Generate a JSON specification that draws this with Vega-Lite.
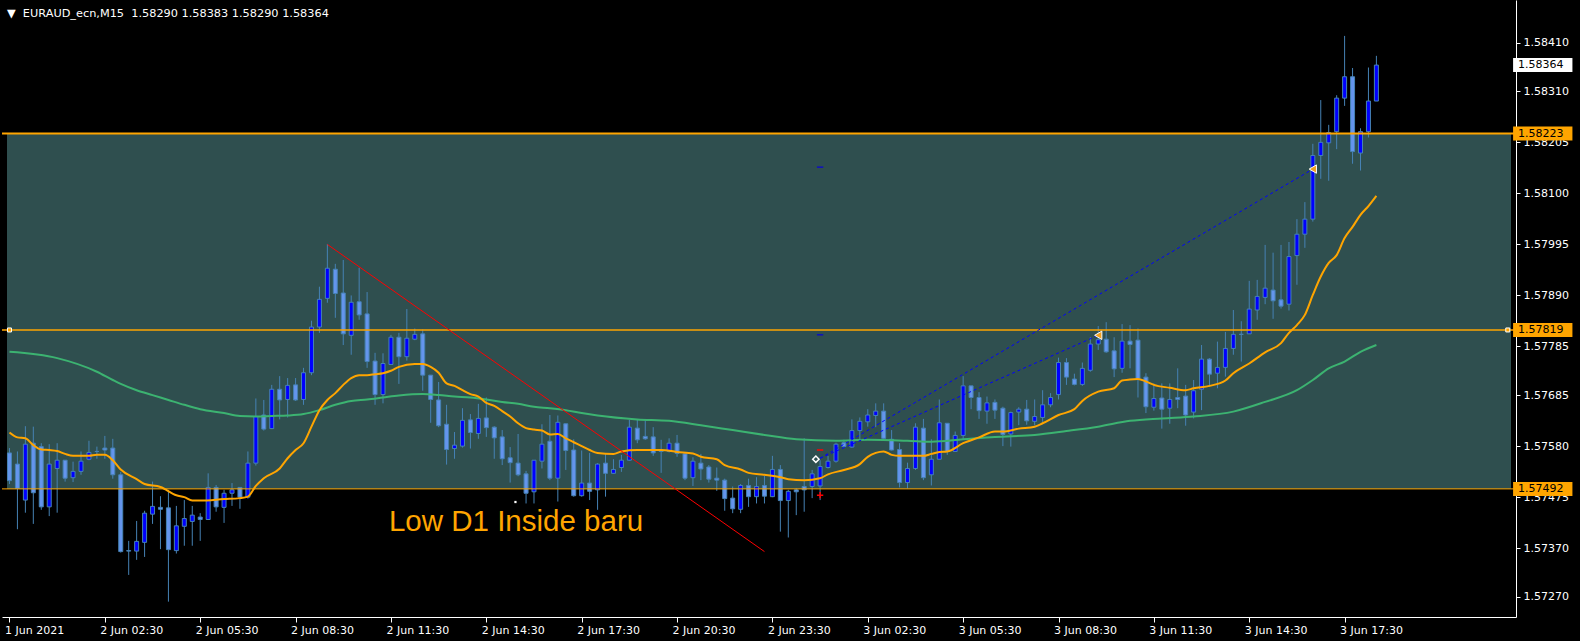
{
"$schema": "https://vega.github.io/schema/vega-lite/v6.json",
"width": 1514, "height": 617,
"autosize": {"type": "none"},
"padding": {"left": 2, "top": 0, "right": 64, "bottom": 24},
"background": "#000000",
"config": {
 "view": {"stroke": null},
 "font": "DejaVu Sans",
 "axis": {"labelFont": "DejaVu Sans", "labelFontSize": 11, "labelColor": "#FFFFFF", "tickColor": "#FFFFFF", "domainColor": "#FFFFFF", "grid": false, "labelOverlap": false}
},
"title": {"text": "\u25bc\u00a0 EURAUD_ecn,M15\u00a0 1.58290 1.58383 1.58290 1.58364", "anchor": "start", "frame": "group", "orient": "top", "offset": -10, "baseline": "middle", "dx": 5, "dy": 15, "color": "#FFFFFF", "font": "DejaVu Sans", "fontSize": 11.3, "fontWeight": "normal"},
"resolve": {"scale": {"color": "independent", "shape": "independent", "strokeWidth": "independent"}},
"datasets": {
 "zone": [{"lo": 1.57492, "hi": 1.58223}],
 "levels": [{"p": 1.58223, "kind": "High D1"}, {"p": 1.57819, "kind": "Mid"}, {"p": 1.57492, "kind": "Low D1"}],
 "candles": [
{"t":"2021-06-01T23:30Z","o":1.57566,"h":1.57576,"l":1.57502,"c":1.57509},
{"t":"2021-06-01T23:45Z","o":1.57543,"h":1.57569,"l":1.57409,"c":1.57493},
{"t":"2021-06-02T00:00Z","o":1.57469,"h":1.57621,"l":1.57443,"c":1.57584},
{"t":"2021-06-02T00:15Z","o":1.57586,"h":1.57620,"l":1.57420,"c":1.57484},
{"t":"2021-06-02T00:30Z","o":1.57579,"h":1.57586,"l":1.57449,"c":1.57455},
{"t":"2021-06-02T00:45Z","o":1.57455,"h":1.57584,"l":1.57436,"c":1.57543},
{"t":"2021-06-02T01:00Z","o":1.57534,"h":1.57586,"l":1.57443,"c":1.57551},
{"t":"2021-06-02T01:15Z","o":1.57551,"h":1.57551,"l":1.57507,"c":1.57514},
{"t":"2021-06-02T01:30Z","o":1.57515,"h":1.57548,"l":1.57506,"c":1.57528},
{"t":"2021-06-02T01:45Z","o":1.57528,"h":1.57569,"l":1.57521,"c":1.57549},
{"t":"2021-06-02T02:00Z","o":1.57553,"h":1.57591,"l":1.57551,"c":1.57567},
{"t":"2021-06-02T02:15Z","o":1.57569,"h":1.57579,"l":1.57554,"c":1.57569},
{"t":"2021-06-02T02:30Z","o":1.57576,"h":1.57601,"l":1.57554,"c":1.57572},
{"t":"2021-06-02T02:45Z","o":1.57576,"h":1.57595,"l":1.57513,"c":1.57521},
{"t":"2021-06-02T03:00Z","o":1.57521,"h":1.57527,"l":1.57361,"c":1.57363},
{"t":"2021-06-02T03:15Z","o":1.57365,"h":1.57385,"l":1.57315,"c":1.57364},
{"t":"2021-06-02T03:30Z","o":1.57364,"h":1.57426,"l":1.57346,"c":1.57384},
{"t":"2021-06-02T03:45Z","o":1.57382,"h":1.57447,"l":1.57352,"c":1.57442},
{"t":"2021-06-02T04:00Z","o":1.57440,"h":1.57507,"l":1.57420,"c":1.57456},
{"t":"2021-06-02T04:15Z","o":1.57454,"h":1.57477,"l":1.57368,"c":1.57450},
{"t":"2021-06-02T04:30Z","o":1.57453,"h":1.57490,"l":1.57260,"c":1.57367},
{"t":"2021-06-02T04:45Z","o":1.57365,"h":1.57457,"l":1.57359,"c":1.57416},
{"t":"2021-06-02T05:00Z","o":1.57415,"h":1.57469,"l":1.57375,"c":1.57431},
{"t":"2021-06-02T05:15Z","o":1.57425,"h":1.57457,"l":1.57375,"c":1.57438},
{"t":"2021-06-02T05:30Z","o":1.57434,"h":1.57442,"l":1.57385,"c":1.57429},
{"t":"2021-06-02T05:45Z","o":1.57429,"h":1.57524,"l":1.57428,"c":1.57495},
{"t":"2021-06-02T06:00Z","o":1.57495,"h":1.57500,"l":1.57445,"c":1.57455},
{"t":"2021-06-02T06:15Z","o":1.57454,"h":1.57490,"l":1.57422,"c":1.57483},
{"t":"2021-06-02T06:30Z","o":1.57483,"h":1.57504,"l":1.57457,"c":1.57490},
{"t":"2021-06-02T06:45Z","o":1.57495,"h":1.57495,"l":1.57451,"c":1.57475},
{"t":"2021-06-02T07:00Z","o":1.57475,"h":1.57569,"l":1.57472,"c":1.57545},
{"t":"2021-06-02T07:15Z","o":1.57545,"h":1.57678,"l":1.57540,"c":1.57641},
{"t":"2021-06-02T07:30Z","o":1.57644,"h":1.57675,"l":1.57612,"c":1.57615},
{"t":"2021-06-02T07:45Z","o":1.57616,"h":1.57706,"l":1.57615,"c":1.57697},
{"t":"2021-06-02T08:00Z","o":1.57697,"h":1.57724,"l":1.57635,"c":1.57675},
{"t":"2021-06-02T08:15Z","o":1.57676,"h":1.57720,"l":1.57639,"c":1.57705},
{"t":"2021-06-02T08:30Z","o":1.57706,"h":1.57720,"l":1.57673,"c":1.57675},
{"t":"2021-06-02T08:45Z","o":1.57676,"h":1.57741,"l":1.57665,"c":1.57731},
{"t":"2021-06-02T09:00Z","o":1.57731,"h":1.57838,"l":1.57726,"c":1.57825},
{"t":"2021-06-02T09:15Z","o":1.57825,"h":1.57908,"l":1.57813,"c":1.57882},
{"t":"2021-06-02T09:30Z","o":1.57884,"h":1.57996,"l":1.57875,"c":1.57946},
{"t":"2021-06-02T09:45Z","o":1.57944,"h":1.57955,"l":1.57844,"c":1.57894},
{"t":"2021-06-02T10:00Z","o":1.57895,"h":1.57963,"l":1.57788,"c":1.57811},
{"t":"2021-06-02T10:15Z","o":1.57808,"h":1.57890,"l":1.57768,"c":1.57876},
{"t":"2021-06-02T10:30Z","o":1.57877,"h":1.57947,"l":1.57840,"c":1.57850},
{"t":"2021-06-02T10:45Z","o":1.57852,"h":1.57897,"l":1.57741,"c":1.57754},
{"t":"2021-06-02T11:00Z","o":1.57755,"h":1.57772,"l":1.57665,"c":1.57686},
{"t":"2021-06-02T11:15Z","o":1.57686,"h":1.57771,"l":1.57668,"c":1.57750},
{"t":"2021-06-02T11:30Z","o":1.57748,"h":1.57809,"l":1.57747,"c":1.57804},
{"t":"2021-06-02T11:45Z","o":1.57804,"h":1.57813,"l":1.57708,"c":1.57764},
{"t":"2021-06-02T12:00Z","o":1.57764,"h":1.57862,"l":1.57756,"c":1.57802},
{"t":"2021-06-02T12:15Z","o":1.57800,"h":1.57822,"l":1.57798,"c":1.57810},
{"t":"2021-06-02T12:30Z","o":1.57811,"h":1.57820,"l":1.57694,"c":1.57726},
{"t":"2021-06-02T12:45Z","o":1.57726,"h":1.57726,"l":1.57628,"c":1.57676},
{"t":"2021-06-02T13:00Z","o":1.57675,"h":1.57712,"l":1.57619,"c":1.57622},
{"t":"2021-06-02T13:15Z","o":1.57625,"h":1.57665,"l":1.57542,"c":1.57573},
{"t":"2021-06-02T13:30Z","o":1.57575,"h":1.57609,"l":1.57554,"c":1.57582},
{"t":"2021-06-02T13:45Z","o":1.57580,"h":1.57658,"l":1.57577,"c":1.57633},
{"t":"2021-06-02T14:00Z","o":1.57634,"h":1.57646,"l":1.57575,"c":1.57608},
{"t":"2021-06-02T14:15Z","o":1.57606,"h":1.57667,"l":1.57595,"c":1.57637},
{"t":"2021-06-02T14:30Z","o":1.57638,"h":1.57680,"l":1.57599,"c":1.57618},
{"t":"2021-06-02T14:45Z","o":1.57619,"h":1.57621,"l":1.57554,"c":1.57597},
{"t":"2021-06-02T15:00Z","o":1.57599,"h":1.57613,"l":1.57541,"c":1.57554},
{"t":"2021-06-02T15:15Z","o":1.57556,"h":1.57578,"l":1.57505,"c":1.57546},
{"t":"2021-06-02T15:30Z","o":1.57545,"h":1.57605,"l":1.57518,"c":1.57521},
{"t":"2021-06-02T15:45Z","o":1.57523,"h":1.57529,"l":1.57462,"c":1.57483},
{"t":"2021-06-02T16:00Z","o":1.57486,"h":1.57551,"l":1.57462,"c":1.57551},
{"t":"2021-06-02T16:15Z","o":1.57549,"h":1.57625,"l":1.57534,"c":1.57584},
{"t":"2021-06-02T16:30Z","o":1.57590,"h":1.57644,"l":1.57510,"c":1.57514},
{"t":"2021-06-02T16:45Z","o":1.57514,"h":1.57643,"l":1.57466,"c":1.57629},
{"t":"2021-06-02T17:00Z","o":1.57626,"h":1.57626,"l":1.57531,"c":1.57571},
{"t":"2021-06-02T17:15Z","o":1.57572,"h":1.57594,"l":1.57476,"c":1.57478},
{"t":"2021-06-02T17:30Z","o":1.57478,"h":1.57571,"l":1.57476,"c":1.57504},
{"t":"2021-06-02T17:45Z","o":1.57504,"h":1.57566,"l":1.57469,"c":1.57487},
{"t":"2021-06-02T18:00Z","o":1.57490,"h":1.57545,"l":1.57449,"c":1.57543},
{"t":"2021-06-02T18:15Z","o":1.57545,"h":1.57564,"l":1.57476,"c":1.57524},
{"t":"2021-06-02T18:30Z","o":1.57524,"h":1.57553,"l":1.57523,"c":1.57532},
{"t":"2021-06-02T18:45Z","o":1.57536,"h":1.57562,"l":1.57527,"c":1.57551},
{"t":"2021-06-02T19:00Z","o":1.57551,"h":1.57634,"l":1.57550,"c":1.57619},
{"t":"2021-06-02T19:15Z","o":1.57617,"h":1.57635,"l":1.57586,"c":1.57593},
{"t":"2021-06-02T19:30Z","o":1.57600,"h":1.57635,"l":1.57593,"c":1.57595},
{"t":"2021-06-02T19:45Z","o":1.57599,"h":1.57619,"l":1.57560,"c":1.57566},
{"t":"2021-06-02T20:00Z","o":1.57572,"h":1.57593,"l":1.57525,"c":1.57569},
{"t":"2021-06-02T20:15Z","o":1.57569,"h":1.57596,"l":1.57567,"c":1.57586},
{"t":"2021-06-02T20:30Z","o":1.57586,"h":1.57603,"l":1.57558,"c":1.57565},
{"t":"2021-06-02T20:45Z","o":1.57564,"h":1.57566,"l":1.57510,"c":1.57514},
{"t":"2021-06-02T21:00Z","o":1.57515,"h":1.57557,"l":1.57498,"c":1.57549},
{"t":"2021-06-02T21:15Z","o":1.57545,"h":1.57564,"l":1.57510,"c":1.57533},
{"t":"2021-06-02T21:30Z","o":1.57537,"h":1.57541,"l":1.57505,"c":1.57512},
{"t":"2021-06-02T21:45Z","o":1.57514,"h":1.57536,"l":1.57488,"c":1.57510},
{"t":"2021-06-02T22:00Z","o":1.57510,"h":1.57513,"l":1.57447,"c":1.57472},
{"t":"2021-06-02T22:15Z","o":1.57473,"h":1.57497,"l":1.57442,"c":1.57451},
{"t":"2021-06-02T22:30Z","o":1.57450,"h":1.57502,"l":1.57442,"c":1.57499},
{"t":"2021-06-02T22:45Z","o":1.57499,"h":1.57513,"l":1.57455,"c":1.57476},
{"t":"2021-06-02T23:00Z","o":1.57476,"h":1.57516,"l":1.57462,"c":1.57497},
{"t":"2021-06-02T23:15Z","o":1.57499,"h":1.57519,"l":1.57462,"c":1.57477},
{"t":"2021-06-02T23:30Z","o":1.57476,"h":1.57560,"l":1.57475,"c":1.57532},
{"t":"2021-06-02T23:45Z","o":1.57532,"h":1.57541,"l":1.57404,"c":1.57468},
{"t":"2021-06-03T00:00Z","o":1.57468,"h":1.57490,"l":1.57392,"c":1.57487},
{"t":"2021-06-03T00:15Z","o":1.57490,"h":1.57493,"l":1.57438,"c":1.57486},
{"t":"2021-06-03T00:30Z","o":1.57497,"h":1.57596,"l":1.57445,"c":1.57490},
{"t":"2021-06-03T00:45Z","o":1.57497,"h":1.57531,"l":1.57473,"c":1.57523},
{"t":"2021-06-03T01:00Z","o":1.57498,"h":1.57551,"l":1.57469,"c":1.57538},
{"t":"2021-06-03T01:15Z","o":1.57536,"h":1.57560,"l":1.57534,"c":1.57549},
{"t":"2021-06-03T01:30Z","o":1.57549,"h":1.57587,"l":1.57546,"c":1.57584},
{"t":"2021-06-03T01:45Z","o":1.57587,"h":1.57593,"l":1.57576,"c":1.57579},
{"t":"2021-06-03T02:00Z","o":1.57578,"h":1.57635,"l":1.57576,"c":1.57612},
{"t":"2021-06-03T02:15Z","o":1.57612,"h":1.57639,"l":1.57594,"c":1.57631},
{"t":"2021-06-03T02:30Z","o":1.57630,"h":1.57656,"l":1.57620,"c":1.57644},
{"t":"2021-06-03T02:45Z","o":1.57643,"h":1.57668,"l":1.57619,"c":1.57652},
{"t":"2021-06-03T03:00Z","o":1.57652,"h":1.57668,"l":1.57594,"c":1.57596},
{"t":"2021-06-03T03:15Z","o":1.57594,"h":1.57613,"l":1.57571,"c":1.57572},
{"t":"2021-06-03T03:30Z","o":1.57573,"h":1.57586,"l":1.57495,"c":1.57505},
{"t":"2021-06-03T03:45Z","o":1.57505,"h":1.57546,"l":1.57493,"c":1.57534},
{"t":"2021-06-03T04:00Z","o":1.57534,"h":1.57627,"l":1.57531,"c":1.57619},
{"t":"2021-06-03T04:15Z","o":1.57617,"h":1.57636,"l":1.57510,"c":1.57515},
{"t":"2021-06-03T04:30Z","o":1.57521,"h":1.57594,"l":1.57499,"c":1.57553},
{"t":"2021-06-03T04:45Z","o":1.57553,"h":1.57676,"l":1.57553,"c":1.57628},
{"t":"2021-06-03T05:00Z","o":1.57627,"h":1.57627,"l":1.57562,"c":1.57569},
{"t":"2021-06-03T05:15Z","o":1.57569,"h":1.57610,"l":1.57568,"c":1.57602},
{"t":"2021-06-03T05:30Z","o":1.57602,"h":1.57724,"l":1.57593,"c":1.57704},
{"t":"2021-06-03T05:45Z","o":1.57704,"h":1.57704,"l":1.57656,"c":1.57680},
{"t":"2021-06-03T06:00Z","o":1.57680,"h":1.57691,"l":1.57636,"c":1.57653},
{"t":"2021-06-03T06:15Z","o":1.57652,"h":1.57682,"l":1.57626,"c":1.57669},
{"t":"2021-06-03T06:30Z","o":1.57670,"h":1.57676,"l":1.57636,"c":1.57654},
{"t":"2021-06-03T06:45Z","o":1.57658,"h":1.57661,"l":1.57580,"c":1.57604},
{"t":"2021-06-03T07:00Z","o":1.57605,"h":1.57651,"l":1.57579,"c":1.57649},
{"t":"2021-06-03T07:15Z","o":1.57650,"h":1.57660,"l":1.57623,"c":1.57656},
{"t":"2021-06-03T07:30Z","o":1.57656,"h":1.57675,"l":1.57624,"c":1.57632},
{"t":"2021-06-03T07:45Z","o":1.57631,"h":1.57676,"l":1.57623,"c":1.57641},
{"t":"2021-06-03T08:00Z","o":1.57639,"h":1.57695,"l":1.57630,"c":1.57665},
{"t":"2021-06-03T08:15Z","o":1.57665,"h":1.57689,"l":1.57660,"c":1.57680},
{"t":"2021-06-03T08:30Z","o":1.57686,"h":1.57762,"l":1.57676,"c":1.57752},
{"t":"2021-06-03T08:45Z","o":1.57752,"h":1.57761,"l":1.57706,"c":1.57722},
{"t":"2021-06-03T09:00Z","o":1.57718,"h":1.57729,"l":1.57705,"c":1.57707},
{"t":"2021-06-03T09:15Z","o":1.57707,"h":1.57752,"l":1.57704,"c":1.57740},
{"t":"2021-06-03T09:30Z","o":1.57736,"h":1.57804,"l":1.57733,"c":1.57790},
{"t":"2021-06-03T09:45Z","o":1.57790,"h":1.57827,"l":1.57778,"c":1.57799},
{"t":"2021-06-03T10:00Z","o":1.57800,"h":1.57835,"l":1.57772,"c":1.57774},
{"t":"2021-06-03T10:15Z","o":1.57776,"h":1.57804,"l":1.57722,"c":1.57739},
{"t":"2021-06-03T10:30Z","o":1.57740,"h":1.57831,"l":1.57731,"c":1.57796},
{"t":"2021-06-03T10:45Z","o":1.57796,"h":1.57829,"l":1.57740,"c":1.57789},
{"t":"2021-06-03T11:00Z","o":1.57798,"h":1.57822,"l":1.57680,"c":1.57719},
{"t":"2021-06-03T11:15Z","o":1.57722,"h":1.57730,"l":1.57648,"c":1.57661},
{"t":"2021-06-03T11:30Z","o":1.57660,"h":1.57709,"l":1.57653,"c":1.57678},
{"t":"2021-06-03T11:45Z","o":1.57679,"h":1.57709,"l":1.57616,"c":1.57656},
{"t":"2021-06-03T12:00Z","o":1.57658,"h":1.57709,"l":1.57626,"c":1.57676},
{"t":"2021-06-03T12:15Z","o":1.57680,"h":1.57740,"l":1.57658,"c":1.57676},
{"t":"2021-06-03T12:30Z","o":1.57683,"h":1.57706,"l":1.57622,"c":1.57644},
{"t":"2021-06-03T12:45Z","o":1.57650,"h":1.57716,"l":1.57637,"c":1.57694},
{"t":"2021-06-03T13:00Z","o":1.57697,"h":1.57788,"l":1.57654,"c":1.57759},
{"t":"2021-06-03T13:15Z","o":1.57759,"h":1.57761,"l":1.57702,"c":1.57728},
{"t":"2021-06-03T13:30Z","o":1.57730,"h":1.57795,"l":1.57699,"c":1.57742},
{"t":"2021-06-03T13:45Z","o":1.57742,"h":1.57815,"l":1.57723,"c":1.57781},
{"t":"2021-06-03T14:00Z","o":1.57781,"h":1.57860,"l":1.57768,"c":1.57810},
{"t":"2021-06-03T14:15Z","o":1.57810,"h":1.57837,"l":1.57754,"c":1.57810},
{"t":"2021-06-03T14:30Z","o":1.57811,"h":1.57920,"l":1.57811,"c":1.57862},
{"t":"2021-06-03T14:45Z","o":1.57860,"h":1.57922,"l":1.57840,"c":1.57888},
{"t":"2021-06-03T15:00Z","o":1.57886,"h":1.57994,"l":1.57872,"c":1.57905},
{"t":"2021-06-03T15:15Z","o":1.57901,"h":1.57978,"l":1.57842,"c":1.57879},
{"t":"2021-06-03T15:30Z","o":1.57881,"h":1.57994,"l":1.57863,"c":1.57868},
{"t":"2021-06-03T15:45Z","o":1.57872,"h":1.58000,"l":1.57859,"c":1.57970},
{"t":"2021-06-03T16:00Z","o":1.57972,"h":1.58047,"l":1.57912,"c":1.58016},
{"t":"2021-06-03T16:15Z","o":1.58016,"h":1.58082,"l":1.57988,"c":1.58047},
{"t":"2021-06-03T16:30Z","o":1.58047,"h":1.58202,"l":1.58042,"c":1.58178},
{"t":"2021-06-03T16:45Z","o":1.58178,"h":1.58292,"l":1.58130,"c":1.58205},
{"t":"2021-06-03T17:00Z","o":1.58204,"h":1.58241,"l":1.58126,"c":1.58225},
{"t":"2021-06-03T17:15Z","o":1.58227,"h":1.58302,"l":1.58191,"c":1.58296},
{"t":"2021-06-03T17:30Z","o":1.58296,"h":1.58424,"l":1.58280,"c":1.58340},
{"t":"2021-06-03T17:45Z","o":1.58340,"h":1.58358,"l":1.58161,"c":1.58186},
{"t":"2021-06-03T18:00Z","o":1.58183,"h":1.58234,"l":1.58147,"c":1.58227},
{"t":"2021-06-03T18:15Z","o":1.58227,"h":1.58359,"l":1.58215,"c":1.58290},
{"t":"2021-06-03T18:30Z","o":1.58290,"h":1.58383,"l":1.58290,"c":1.58364}
 ],
 "fast": [
{"t":"2021-06-01T23:30Z","v":1.57608},{"t":"2021-06-01T23:45Z","v":1.57598},{"t":"2021-06-02T00:00Z","v":1.57596},{"t":"2021-06-02T00:15Z","v":1.57582},{"t":"2021-06-02T00:30Z","v":1.57573},{"t":"2021-06-02T00:45Z","v":1.57572},{"t":"2021-06-02T01:00Z","v":1.57570},{"t":"2021-06-02T01:15Z","v":1.57564},{"t":"2021-06-02T01:30Z","v":1.57560},{"t":"2021-06-02T02:00Z","v":1.57560},{"t":"2021-06-02T02:15Z","v":1.57562},{"t":"2021-06-02T02:30Z","v":1.57562},{"t":"2021-06-02T02:45Z","v":1.57551},{"t":"2021-06-02T03:00Z","v":1.57532},{"t":"2021-06-02T03:30Z","v":1.57512},{"t":"2021-06-02T03:45Z","v":1.57502},{"t":"2021-06-02T04:15Z","v":1.57496},{"t":"2021-06-02T04:45Z","v":1.57479},{"t":"2021-06-02T05:00Z","v":1.57475},{"t":"2021-06-02T05:15Z","v":1.57468},{"t":"2021-06-02T05:30Z","v":1.57468},{"t":"2021-06-02T06:15Z","v":1.57471},{"t":"2021-06-02T06:45Z","v":1.57473},{"t":"2021-06-02T07:00Z","v":1.57476},{"t":"2021-06-02T07:15Z","v":1.57498},{"t":"2021-06-02T07:30Z","v":1.57514},{"t":"2021-06-02T08:00Z","v":1.57534},{"t":"2021-06-02T08:15Z","v":1.57555},{"t":"2021-06-02T08:30Z","v":1.57572},{"t":"2021-06-02T08:45Z","v":1.57586},{"t":"2021-06-02T09:00Z","v":1.57620},{"t":"2021-06-02T09:15Z","v":1.57654},{"t":"2021-06-02T09:30Z","v":1.57675},{"t":"2021-06-02T09:45Z","v":1.57689},{"t":"2021-06-02T10:00Z","v":1.57706},{"t":"2021-06-02T10:15Z","v":1.57720},{"t":"2021-06-02T10:30Z","v":1.57726},{"t":"2021-06-02T10:45Z","v":1.57726},{"t":"2021-06-02T11:00Z","v":1.57728},{"t":"2021-06-02T11:15Z","v":1.57730},{"t":"2021-06-02T11:30Z","v":1.57735},{"t":"2021-06-02T11:45Z","v":1.57743},{"t":"2021-06-02T12:15Z","v":1.57749},{"t":"2021-06-02T12:30Z","v":1.57749},{"t":"2021-06-02T12:45Z","v":1.57743},{"t":"2021-06-02T13:00Z","v":1.57731},{"t":"2021-06-02T13:15Z","v":1.57709},{"t":"2021-06-02T13:30Z","v":1.57704},{"t":"2021-06-02T13:45Z","v":1.57695},{"t":"2021-06-02T14:00Z","v":1.57687},{"t":"2021-06-02T14:15Z","v":1.57682},{"t":"2021-06-02T14:30Z","v":1.57669},{"t":"2021-06-02T14:45Z","v":1.57663},{"t":"2021-06-02T15:00Z","v":1.57652},{"t":"2021-06-02T15:15Z","v":1.57641},{"t":"2021-06-02T15:30Z","v":1.57627},{"t":"2021-06-02T15:45Z","v":1.57617},{"t":"2021-06-02T16:00Z","v":1.57614},{"t":"2021-06-02T16:15Z","v":1.57612},{"t":"2021-06-02T16:30Z","v":1.57604},{"t":"2021-06-02T16:45Z","v":1.57605},{"t":"2021-06-02T17:00Z","v":1.57596},{"t":"2021-06-02T17:15Z","v":1.57588},{"t":"2021-06-02T17:30Z","v":1.57580},{"t":"2021-06-02T17:45Z","v":1.57572},{"t":"2021-06-02T18:00Z","v":1.57566},{"t":"2021-06-02T18:30Z","v":1.57564},{"t":"2021-06-02T18:45Z","v":1.57569},{"t":"2021-06-02T19:15Z","v":1.57572},{"t":"2021-06-02T20:00Z","v":1.57572},{"t":"2021-06-02T20:30Z","v":1.57568},{"t":"2021-06-02T21:00Z","v":1.57565},{"t":"2021-06-02T21:15Z","v":1.57558},{"t":"2021-06-02T21:45Z","v":1.57553},{"t":"2021-06-02T22:00Z","v":1.57541},{"t":"2021-06-02T22:30Z","v":1.57532},{"t":"2021-06-02T22:45Z","v":1.57525},{"t":"2021-06-02T23:15Z","v":1.57521},{"t":"2021-06-02T23:45Z","v":1.57516},{"t":"2021-06-03T00:00Z","v":1.57512},{"t":"2021-06-03T00:30Z","v":1.57510},{"t":"2021-06-03T01:00Z","v":1.57514},{"t":"2021-06-03T01:15Z","v":1.57522},{"t":"2021-06-03T01:45Z","v":1.57531},{"t":"2021-06-03T02:15Z","v":1.57543},{"t":"2021-06-03T02:30Z","v":1.57558},{"t":"2021-06-03T02:45Z","v":1.57566},{"t":"2021-06-03T03:00Z","v":1.57569},{"t":"2021-06-03T03:15Z","v":1.57562},{"t":"2021-06-03T03:30Z","v":1.57560},{"t":"2021-06-03T04:15Z","v":1.57560},{"t":"2021-06-03T04:30Z","v":1.57564},{"t":"2021-06-03T04:45Z","v":1.57568},{"t":"2021-06-03T05:00Z","v":1.57569},{"t":"2021-06-03T05:30Z","v":1.57586},{"t":"2021-06-03T06:00Z","v":1.57598},{"t":"2021-06-03T06:30Z","v":1.57610},{"t":"2021-06-03T06:45Z","v":1.57610},{"t":"2021-06-03T07:15Z","v":1.57616},{"t":"2021-06-03T07:45Z","v":1.57620},{"t":"2021-06-03T08:00Z","v":1.57627},{"t":"2021-06-03T08:30Z","v":1.57644},{"t":"2021-06-03T09:00Z","v":1.57656},{"t":"2021-06-03T09:15Z","v":1.57673},{"t":"2021-06-03T09:45Z","v":1.57692},{"t":"2021-06-03T10:15Z","v":1.57699},{"t":"2021-06-03T10:30Z","v":1.57715},{"t":"2021-06-03T10:45Z","v":1.57717},{"t":"2021-06-03T11:00Z","v":1.57718},{"t":"2021-06-03T11:15Z","v":1.57713},{"t":"2021-06-03T11:30Z","v":1.57706},{"t":"2021-06-03T12:00Z","v":1.57700},{"t":"2021-06-03T12:30Z","v":1.57695},{"t":"2021-06-03T12:45Z","v":1.57699},{"t":"2021-06-03T13:15Z","v":1.57704},{"t":"2021-06-03T13:45Z","v":1.57715},{"t":"2021-06-03T14:00Z","v":1.57730},{"t":"2021-06-03T14:30Z","v":1.57750},{"t":"2021-06-03T15:00Z","v":1.57773},{"t":"2021-06-03T15:30Z","v":1.57792},{"t":"2021-06-03T15:45Z","v":1.57813},{"t":"2021-06-03T16:00Z","v":1.57829},{"t":"2021-06-03T16:15Z","v":1.57850},{"t":"2021-06-03T16:30Z","v":1.57891},{"t":"2021-06-03T16:45Z","v":1.57929},{"t":"2021-06-03T17:00Z","v":1.57957},{"t":"2021-06-03T17:15Z","v":1.57973},{"t":"2021-06-03T17:30Z","v":1.58008},{"t":"2021-06-03T17:45Z","v":1.58031},{"t":"2021-06-03T18:00Z","v":1.58056},{"t":"2021-06-03T18:15Z","v":1.58074},{"t":"2021-06-03T18:30Z","v":1.58095}
 ],
 "slow": [
{"t":"2021-06-01T23:30Z","v":1.57774},{"t":"2021-06-02T01:00Z","v":1.57761},{"t":"2021-06-02T02:15Z","v":1.57733},{"t":"2021-06-02T02:45Z","v":1.57716},{"t":"2021-06-02T03:00Z","v":1.57708},{"t":"2021-06-02T03:30Z","v":1.57695},{"t":"2021-06-02T04:00Z","v":1.57685},{"t":"2021-06-02T04:30Z","v":1.57675},{"t":"2021-06-02T05:00Z","v":1.57665},{"t":"2021-06-02T05:30Z","v":1.57656},{"t":"2021-06-02T06:15Z","v":1.57648},{"t":"2021-06-02T06:45Z","v":1.57642},{"t":"2021-06-02T07:15Z","v":1.57641},{"t":"2021-06-02T07:45Z","v":1.57642},{"t":"2021-06-02T08:15Z","v":1.57643},{"t":"2021-06-02T08:45Z","v":1.57646},{"t":"2021-06-02T09:15Z","v":1.57654},{"t":"2021-06-02T09:45Z","v":1.57665},{"t":"2021-06-02T10:15Z","v":1.57673},{"t":"2021-06-02T10:45Z","v":1.57676},{"t":"2021-06-02T11:15Z","v":1.57680},{"t":"2021-06-02T11:45Z","v":1.57684},{"t":"2021-06-02T12:30Z","v":1.57687},{"t":"2021-06-02T13:00Z","v":1.57685},{"t":"2021-06-02T13:30Z","v":1.57682},{"t":"2021-06-02T14:00Z","v":1.57680},{"t":"2021-06-02T14:30Z","v":1.57676},{"t":"2021-06-02T15:00Z","v":1.57671},{"t":"2021-06-02T15:30Z","v":1.57667},{"t":"2021-06-02T16:00Z","v":1.57661},{"t":"2021-06-02T16:30Z","v":1.57658},{"t":"2021-06-02T17:00Z","v":1.57654},{"t":"2021-06-02T17:30Z","v":1.57648},{"t":"2021-06-02T18:00Z","v":1.57643},{"t":"2021-06-02T19:15Z","v":1.57635},{"t":"2021-06-02T20:15Z","v":1.57632},{"t":"2021-06-02T21:15Z","v":1.57623},{"t":"2021-06-02T22:15Z","v":1.57613},{"t":"2021-06-02T23:15Z","v":1.57603},{"t":"2021-06-03T00:15Z","v":1.57594},{"t":"2021-06-03T01:30Z","v":1.57591},{"t":"2021-06-03T02:30Z","v":1.57593},{"t":"2021-06-03T03:45Z","v":1.57591},{"t":"2021-06-03T04:30Z","v":1.57589},{"t":"2021-06-03T05:30Z","v":1.57594},{"t":"2021-06-03T06:30Z","v":1.57599},{"t":"2021-06-03T07:45Z","v":1.57603},{"t":"2021-06-03T08:45Z","v":1.57611},{"t":"2021-06-03T09:45Z","v":1.57620},{"t":"2021-06-03T10:45Z","v":1.57632},{"t":"2021-06-03T11:45Z","v":1.57637},{"t":"2021-06-03T12:45Z","v":1.57641},{"t":"2021-06-03T14:00Z","v":1.57651},{"t":"2021-06-03T15:00Z","v":1.57671},{"t":"2021-06-03T16:00Z","v":1.57695},{"t":"2021-06-03T16:30Z","v":1.57716},{"t":"2021-06-03T17:00Z","v":1.57740},{"t":"2021-06-03T17:30Z","v":1.57754},{"t":"2021-06-03T18:00Z","v":1.57774},{"t":"2021-06-03T18:30Z","v":1.57788}
 ],
 "trend": [{"t":"2021-06-02T09:30Z","p":1.57995},{"t":"2021-06-02T23:15Z","p":1.57363}],
 "rays": [{"id":"a","t":"2021-06-03T01:00Z","p":1.57555},{"id":"a","t":"2021-06-03T16:30Z","p":1.58150},{"id":"b","t":"2021-06-03T01:00Z","p":1.57555},{"id":"b","t":"2021-06-03T09:45Z","p":1.57808}],
 "arrows": [{"t":"2021-06-03T09:45Z","p":1.57808},{"t":"2021-06-03T16:30Z","p":1.58150}],
 "handles": [{"t":"2021-06-01T23:30Z","p":1.57819},{"t":"2021-06-03T22:38Z","p":1.57819}],
 "icons": [{"t":"2021-06-03T00:52Z","p":1.57553,"kind":"arrow"},{"t":"2021-06-03T01:00Z","p":1.58154,"kind":"bluedash"},{"t":"2021-06-03T01:00Z","p":1.57809,"kind":"bluedash"},{"t":"2021-06-03T01:00Z","p":1.57572,"kind":"reddash"},{"t":"2021-06-03T01:00Z","p":1.57479,"kind":"redcross"}],
 "dots": [{"t":"2021-06-02T15:25Z","p":1.57465}],
 "notes": [{"t":"2021-06-02T11:30Z","p":1.57405,"label":"Low D1 Inside baru"}],
 "tags": [{"p":1.58364,"label":"1.58364","kind":"bid"},{"p":1.58223,"label":"1.58223","kind":"level"},{"p":1.57819,"label":"1.57819","kind":"level"},{"p":1.57492,"label":"1.57492","kind":"level"}]
},
"layer": [
 {"data": {"name": "zone"}, "mark": {"type": "rect", "color": "#2F4F4F"},
  "encoding": {
   "x": {"datum": {"year":2021,"month":6,"date":1,"hours":23,"minutes":25,"seconds":18,"milliseconds":750,"utc":true}, "type": "temporal", "scale": {"type": "utc", "domain": [{"year":2021,"month":6,"date":1,"hours":23,"minutes":25,"seconds":18,"milliseconds":750,"utc":true},{"year":2021,"month":6,"date":3,"hours":22,"minutes":44,"seconds":3,"milliseconds":750,"utc":true}]},
     "axis": {"values": [
      {"year":2021,"month":6,"date":1,"hours":23,"minutes":30,"utc":true},
      {"year":2021,"month":6,"date":2,"hours":2,"minutes":30,"utc":true},
      {"year":2021,"month":6,"date":2,"hours":5,"minutes":30,"utc":true},
      {"year":2021,"month":6,"date":2,"hours":8,"minutes":30,"utc":true},
      {"year":2021,"month":6,"date":2,"hours":11,"minutes":30,"utc":true},
      {"year":2021,"month":6,"date":2,"hours":14,"minutes":30,"utc":true},
      {"year":2021,"month":6,"date":2,"hours":17,"minutes":30,"utc":true},
      {"year":2021,"month":6,"date":2,"hours":20,"minutes":30,"utc":true},
      {"year":2021,"month":6,"date":2,"hours":23,"minutes":30,"utc":true},
      {"year":2021,"month":6,"date":3,"hours":2,"minutes":30,"utc":true},
      {"year":2021,"month":6,"date":3,"hours":5,"minutes":30,"utc":true},
      {"year":2021,"month":6,"date":3,"hours":8,"minutes":30,"utc":true},
      {"year":2021,"month":6,"date":3,"hours":11,"minutes":30,"utc":true},
      {"year":2021,"month":6,"date":3,"hours":14,"minutes":30,"utc":true},
      {"year":2021,"month":6,"date":3,"hours":17,"minutes":30,"utc":true}],
      "labelExpr": "utcFormat(datum.value, '%d %H:%M') == '01 23:30' ? '1 Jun 2021' : utcFormat(datum.value, '%-d %b %H:%M')",
      "labelAlign": "left", "labelBaseline": "top", "labelPadding": 2, "labelOffset": -5, "tickSize": 5, "labelFlush": false, "labelBound": false, "title": null}},
   "x2": {"datum": {"year":2021,"month":6,"date":3,"hours":22,"minutes":44,"seconds":3,"milliseconds":750,"utc":true}},
   "y": {"field": "lo", "type": "quantitative", "scale": {"domain": [1.572284, 1.584979], "nice": false, "zero": false},
     "axis": {"orient": "right", "values": [1.5841, 1.5831, 1.58205, 1.581, 1.57995, 1.5789, 1.57785, 1.57685, 1.5758, 1.57475, 1.5737, 1.5727], "format": ".5f", "tickSize": 4, "labelPadding": 3, "labelBound": false, "title": null}},
   "y2": {"field": "hi"}
  }},
 {"data": {"name": "candles"},
  "layer": [
   {"mark": {"type": "rule", "color": "#4682B4", "strokeWidth": 1},
    "encoding": {
     "x": {"field": "t", "type": "temporal", "title": null},
     "y": {"field": "l", "type": "quantitative", "title": null},
     "y2": {"field": "h"}
    }},
   {"mark": {"type": "bar", "stroke": "#4682B4", "strokeWidth": 1, "orient": "vertical"},
    "encoding": {
     "x": {"field": "t", "type": "temporal", "title": null},
     "y": {"field": "o", "type": "quantitative", "title": null},
     "y2": {"field": "c"},
     "size": {"value": 4},
     "color": {"condition": {"test": "datum.c > datum.o", "value": "#0000FF"}, "value": "#6495ED"}
    }}
  ]},
 {"data": {"name": "slow"}, "mark": {"type": "line", "color": "#3CB371", "strokeWidth": 2, "interpolate": "monotone"},
  "encoding": {"x": {"field": "t", "type": "temporal", "title": null}, "y": {"field": "v", "type": "quantitative", "title": null}}},
 {"data": {"name": "fast"}, "mark": {"type": "line", "color": "#FFA500", "strokeWidth": 2, "interpolate": "monotone"},
  "encoding": {"x": {"field": "t", "type": "temporal", "title": null}, "y": {"field": "v", "type": "quantitative", "title": null}}},
 {"data": {"name": "levels"}, "mark": {"type": "rule", "color": "#FFA500"},
  "encoding": {"y": {"field": "p", "type": "quantitative", "title": null},
   "strokeWidth": {"field": "kind", "type": "nominal", "scale": {"domain": ["High D1", "Mid", "Low D1"], "range": [2, 1, 2]}, "legend": null}}},
 {"data": {"name": "trend"}, "mark": {"type": "line", "color": "#FF0000", "strokeWidth": 1},
  "encoding": {"x": {"field": "t", "type": "temporal", "title": null}, "y": {"field": "p", "type": "quantitative", "title": null}}},
 {"data": {"name": "rays"}, "mark": {"type": "line", "color": "#0000FF", "strokeWidth": 1, "strokeDash": [3, 3]},
  "encoding": {"x": {"field": "t", "type": "temporal", "title": null}, "y": {"field": "p", "type": "quantitative", "title": null}, "detail": {"field": "id"}}},
 {"data": {"name": "arrows"}, "mark": {"type": "point", "shape": "triangle-left", "filled": true, "fill": "#F0A020", "stroke": "#FFFFFF", "strokeWidth": 1, "size": 70, "opacity": 1},
  "encoding": {"x": {"field": "t", "type": "temporal", "title": null}, "y": {"field": "p", "type": "quantitative", "title": null}}},
 {"data": {"name": "handles"}, "mark": {"type": "point", "shape": "square", "filled": true, "fill": "#FFA500", "stroke": "#FFFFFF", "strokeWidth": 1, "size": 16, "opacity": 1},
  "encoding": {"x": {"field": "t", "type": "temporal", "title": null}, "y": {"field": "p", "type": "quantitative", "title": null}}},
 {"data": {"name": "dots"}, "mark": {"type": "point", "shape": "square", "filled": true, "color": "#FFFFFF", "size": 5, "opacity": 1},
  "encoding": {"x": {"field": "t", "type": "temporal", "title": null}, "y": {"field": "p", "type": "quantitative", "title": null}}},
 {"data": {"name": "icons"}, "mark": {"type": "point", "filled": false, "strokeWidth": 1.5, "size": 40, "opacity": 1},
  "encoding": {"x": {"field": "t", "type": "temporal", "title": null}, "y": {"field": "p", "type": "quantitative", "title": null},
   "shape": {"field": "kind", "type": "nominal", "scale": {"domain": ["arrow", "bluedash", "reddash", "redcross"], "range": ["diamond", "stroke", "stroke", "M-1,0H1M0,-1V1"]}, "legend": null},
   "color": {"field": "kind", "type": "nominal", "scale": {"domain": ["arrow", "bluedash", "reddash", "redcross"], "range": ["#FFFFFF", "#1010C0", "#FF0000", "#FF0000"]}, "legend": null}}},
 {"data": {"name": "notes"}, "mark": {"type": "text", "align": "left", "baseline": "alphabetic", "font": "Liberation Sans", "fontSize": 29.5, "color": "#FFA500", "dx": -2},
  "encoding": {"x": {"field": "t", "type": "temporal", "title": null}, "y": {"field": "p", "type": "quantitative", "title": null}, "text": {"field": "label"}}},
 {"data": {"name": "tags"}, "mark": {"type": "rect", "yOffset": -7, "y2Offset": 7},
  "encoding": {
   "x": {"datum": {"year":2021,"month":6,"date":3,"hours":22,"minutes":48,"utc":true}, "type": "temporal"},
   "x2": {"datum": {"year":2021,"month":6,"date":4,"hours":0,"minutes":40,"utc":true}},
   "y": {"field": "p", "type": "quantitative", "title": null},
   "y2": {"field": "p"},
   "color": {"field": "kind", "type": "nominal", "scale": {"domain": ["bid", "level"], "range": ["#FFFFFF", "#FFA500"]}, "legend": null}}},
 {"data": {"name": "tags"}, "mark": {"type": "text", "align": "left", "baseline": "middle", "dx": 5, "font": "DejaVu Sans", "fontSize": 11, "color": "#000000"},
  "encoding": {
   "x": {"datum": {"year":2021,"month":6,"date":3,"hours":22,"minutes":48,"utc":true}, "type": "temporal"},
   "y": {"field": "p", "type": "quantitative", "title": null},
   "text": {"field": "label"}}},
 {"mark": {"type": "rule", "color": "#FFFFFF", "strokeWidth": 1},
  "encoding": {"x": {"datum": {"year":2021,"month":6,"date":1,"hours":23,"minutes":25,"seconds":18,"milliseconds":750,"utc":true}, "type": "temporal"}}}
]
}
